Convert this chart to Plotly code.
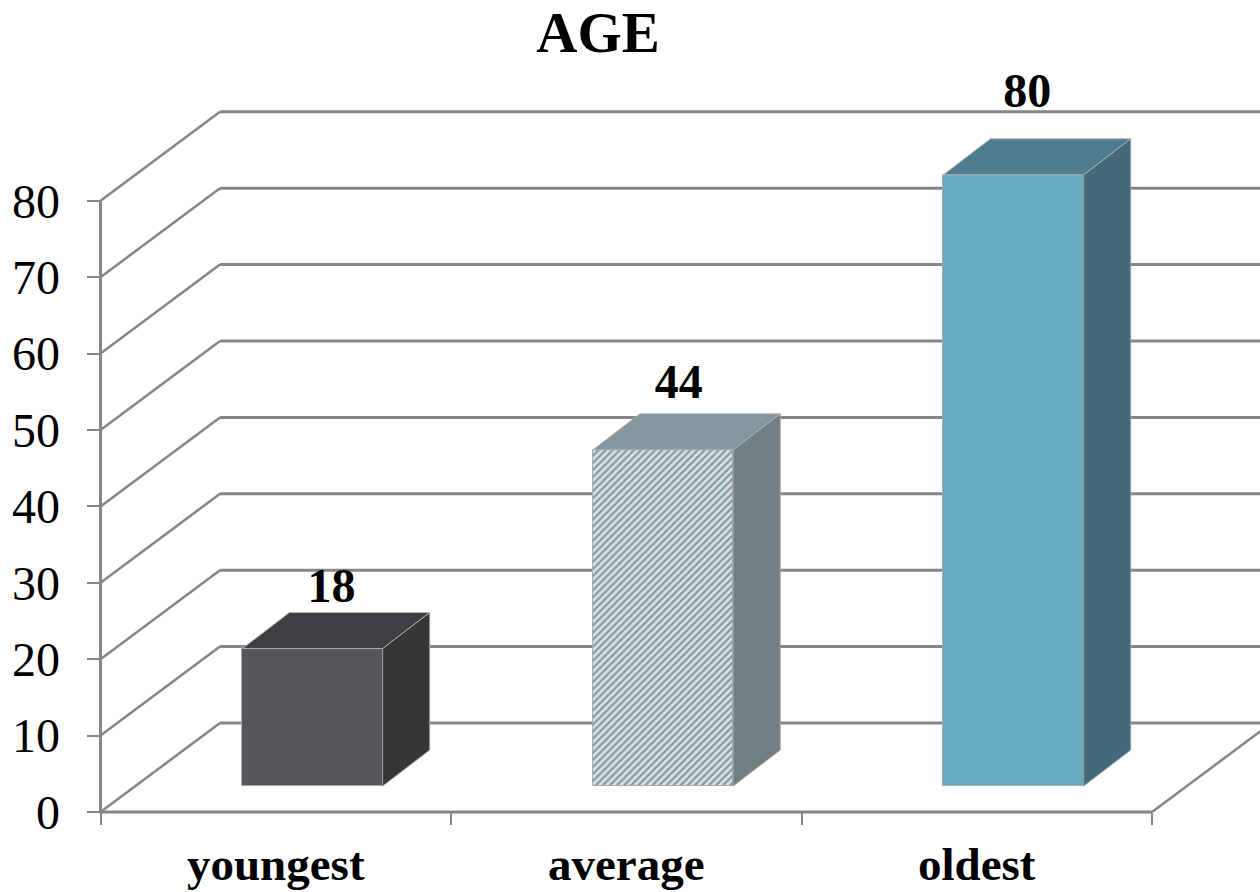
import plotly.graph_objects as go

categories = ["youngest", "average", "oldest"]
values = [18, 44, 80]
y_ticks = [0, 10, 20, 30, 40, 50, 60, 70, 80]
front_colors = ["#565559", "#cfe4ea", "#68abc0"]
side_colors = ["#363538", "#717e82", "#436a7a"]
top_colors = ["#3f3e42", "#84979e", "#4e7d8f"]

W, H = 1260, 892
X0_PX, Y0_PX = 100.5, 812
PX_X, PX_Y = 350.5, 7.64
LEFT, BOTTOM_PX = 80, 840
WALL_DX, WALL_DY = 119.5 / PX_X, 89 / PX_Y
BAR_DX, BAR_DY = 47 / PX_X, 36 / PX_Y
BASE = 26 / PX_Y
SHIFT, BAR_W = 0.105, 0.4
GRID = "#868686"
LABEL_DX = [0.054, 0.045, 0.039]
LABEL_DY = [7.7, 8.35, 10.45]

x_lo = -0.5 - (X0_PX - LEFT) / PX_X
x_hi = -0.5 + (W - X0_PX) / PX_X
y_lo = -(BOTTOM_PX - Y0_PX) / PX_Y
y_hi = Y0_PX / PX_Y
xr, yr = [x_lo, x_hi], [y_lo, y_hi]
x_pos = (X0_PX - LEFT) / (W - LEFT)
y_pos = (BOTTOM_PX - Y0_PX) / BOTTOM_PX

fig = go.Figure()

shapes = []
def seg(x0, y0, x1, y1, w=3):
    shapes.append(dict(type="line", xref="x", yref="y", x0=x0, y0=y0, x1=x1, y1=y1,
                       layer="below", line=dict(color=GRID, width=w)))

for v in y_ticks:
    seg(-0.5, v, -0.5 + WALL_DX, v + WALL_DY, 2.5)
    seg(-0.5 + WALL_DX, v + WALL_DY, x_hi + 0.02, v + WALL_DY)
seg(-0.5, 0, -0.5, y_ticks[-1])
seg(-0.5, 0, 2.5, 0, 3)
seg(2.5, 0, 2.5 + WALL_DX, WALL_DY, 2.5)

fig.add_trace(go.Bar(
    x=[i + SHIFT for i in range(len(values))], y=values, base=BASE, width=BAR_W,
    marker=dict(color=front_colors, pattern=dict(
        shape=["", "/", ""], fgcolor="#8fb6c3", size=5, solidity=0.42, fillmode="overlay"),
        line=dict(color="#a8a8a8", width=1)),
    showlegend=False, hoverinfo="skip"))

for i, v in enumerate(values):
    l = i + SHIFT - BAR_W / 2
    r = i + SHIFT + BAR_W / 2
    bot, top = BASE, BASE + v
    fig.add_trace(go.Scatter(
        x=[r, r + BAR_DX, r + BAR_DX, r, r], y=[bot, bot + BAR_DY, top + BAR_DY, top, bot],
        mode="lines", fill="toself", fillcolor=side_colors[i],
        line=dict(color="#9a9a9a", width=1), showlegend=False, hoverinfo="skip"))
    fig.add_trace(go.Scatter(
        x=[l, l + BAR_DX, r + BAR_DX, r, l], y=[top, top + BAR_DY, top + BAR_DY, top, top],
        mode="lines", fill="toself", fillcolor=top_colors[i],
        line=dict(color="#b0b0b0", width=1), showlegend=False, hoverinfo="skip"))

fig.add_trace(go.Scatter(
    x=[i + SHIFT + LABEL_DX[i] for i in range(len(values))],
    y=[v + BASE + LABEL_DY[i] for i, v in enumerate(values)],
    xaxis="x2", mode="text", text=[str(v) for v in values], textposition="middle center",
    textfont=dict(family="Liberation Serif", size=48, color="#000000"),
    texttemplate="<b>%{text}</b>", showlegend=False, hoverinfo="skip", cliponaxis=False))

fig.update_layout(
    width=W, height=H, autosize=False,
    margin=dict(l=LEFT, r=0, t=0, b=H - BOTTOM_PX, pad=0, autoexpand=False),
    paper_bgcolor="#ffffff", plot_bgcolor="rgba(0,0,0,0)",
    shapes=shapes, showlegend=False, bargap=0,
    title=dict(text="<b>AGE</b>", xref="container", yref="container", x=598 / W, y=1 - 32 / H,
               xanchor="center", yanchor="middle", automargin=False,
               font=dict(family="Liberation Serif", size=57, color="#000000")),
    font=dict(family="Liberation Serif", color="#000000"),
    xaxis=dict(range=xr, tickmode="array", tickvals=[-0.5, 0.5, 1.5, 2.5], ticktext=["", "", "", ""],
               ticks="outside", ticklen=12, tickwidth=2, tickcolor=GRID, automargin=False,
               showgrid=False, zeroline=False, showline=False, anchor="free", position=y_pos),
    xaxis2=dict(range=xr, overlaying="x", side="bottom", tickmode="array", automargin=False,
                tickvals=list(range(len(categories))), ticktext=[f"<b>{c}</b>" for c in categories],
                ticks="outside", ticklen=11, tickwidth=1, tickcolor="rgba(0,0,0,0)",
                tickfont=dict(family="Liberation Serif", size=47, color="#000000"),
                showgrid=False, zeroline=False, showline=False, anchor="free", position=y_pos),
    yaxis=dict(range=yr, tickmode="array", tickvals=y_ticks, automargin=False,
               ticks="outside", ticklen=14, tickwidth=2, tickcolor=GRID, ticklabelstandoff=17,
               tickfont=dict(family="Liberation Serif", size=48, color="#000000"),
               showgrid=False, zeroline=False, showline=False, anchor="free", position=x_pos),
)

fig.write_html("out.html", config={"displayModeBar": False},
               post_script="document.body.style.margin='0';document.body.style.overflow='hidden';")
